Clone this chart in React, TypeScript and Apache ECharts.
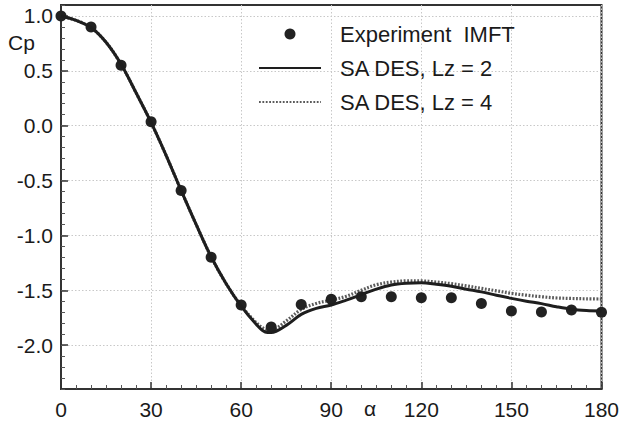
import React, { useEffect, useRef } from "react";
import * as echarts from "echarts";

const expAlpha = [0, 10, 20, 30, 40, 50, 60, 70, 80, 90, 100, 110, 120, 130, 140, 150, 160, 170, 180];
const expCp = [1.0, 0.9, 0.55, 0.035, -0.59, -1.2, -1.635, -1.835, -1.63, -1.583, -1.56, -1.559, -1.568, -1.568, -1.62, -1.69, -1.698, -1.68, -1.7];

const simAlpha = [0, 5, 10, 15, 20, 25, 30, 35, 40, 45, 50, 55, 60, 65, 68, 70, 75, 80, 85, 90, 95, 100, 105, 110, 115, 120, 125, 130, 135, 140, 145, 150, 155, 160, 165, 170, 175, 180];
const lz2Cp = [1.0, 0.96, 0.895, 0.76, 0.56, 0.3, 0.03, -0.27, -0.59, -0.9, -1.195, -1.44, -1.645, -1.81, -1.88, -1.885, -1.82, -1.72, -1.665, -1.635, -1.59, -1.54, -1.49, -1.452, -1.436, -1.432, -1.445, -1.463, -1.49, -1.515, -1.545, -1.574, -1.6, -1.622, -1.65, -1.673, -1.684, -1.688];
const lz4Cp = [1.0, 0.96, 0.895, 0.76, 0.56, 0.3, 0.03, -0.27, -0.59, -0.9, -1.195, -1.44, -1.64, -1.795, -1.855, -1.862, -1.78, -1.675, -1.62, -1.59, -1.555, -1.5, -1.45, -1.425, -1.415, -1.415, -1.425, -1.44, -1.46, -1.483, -1.505, -1.528, -1.545, -1.559, -1.57, -1.575, -1.578, -1.58];

const xTicks = [0, 30, 60, 90, 120, 150, 180];
const yTicks = [-2.0, -1.5, -1.0, -0.5, 0.0, 0.5, 1.0];

const seriesNames = ["Experiment  IMFT", "SA DES, Lz = 2", "SA DES, Lz = 4"];

const FONT = "Liberation Sans, Arial, Helvetica, sans-serif";

export default function App() {
  const ref = useRef<HTMLDivElement>(null);
  useEffect(() => {
    if (!ref.current) return;
    const chart = echarts.init(ref.current, null, { renderer: "svg" });
    const zip = (xs: number[], ys: number[]) => xs.map((x, i) => [x, ys[i]]);
    const option: any = {
      animation: false,
      backgroundColor: "#ffffff",
      grid: {
        left: 61,
        right: 20,
        top: 5,
        bottom: 35,
        show: true,
        borderColor: "#333",
        borderWidth: 2,
        backgroundColor: "transparent",
      },
      legend: {
        orient: "vertical",
        left: 253,
        top: 18,
        itemWidth: 62,
        itemHeight: 11,
        itemGap: 12,
        textStyle: { fontSize: 22, fontFamily: FONT, color: "#1a1a1a", padding: [0, 0, 0, 14], lineHeight: 22 },
        data: [
          { name: seriesNames[0], icon: "circle" },
          { name: seriesNames[1], itemStyle: { opacity: 0 } },
          { name: seriesNames[2], itemStyle: { opacity: 0 } },
        ],
      },
      xAxis: [
        {
          type: "value",
          min: 0,
          max: 180,
          interval: 30,
          axisLine: { show: true, onZero: false, lineStyle: { color: "#333", width: 2 } },
          axisTick: { show: true, inside: true, length: 7, lineStyle: { color: "#333", width: 1.5 } },
          minorTick: { show: true, splitNumber: 6, length: 4, lineStyle: { color: "#555", width: 1 } },
          axisLabel: {
            fontSize: 21,
            fontFamily: FONT,
            color: "#1a1a1a",
            margin: 10,
            customValues: xTicks,
          },
          splitLine: { show: true, lineStyle: { color: "#c8c8c8", type: [1.5, 2], width: 1 } },
        },
      ],
      yAxis: [
        {
          type: "value",
          min: -2.4,
          max: 1.1,
          axisLine: { show: true, onZero: false, lineStyle: { color: "#333", width: 2 } },
          axisTick: { show: true, inside: true, length: 7, customValues: yTicks, lineStyle: { color: "#333", width: 1.5 } },
          axisLabel: {
            fontSize: 21,
            fontFamily: FONT,
            color: "#1a1a1a",
            margin: 8,
            customValues: yTicks,
            formatter: (v: number) => v.toFixed(1),
          },
          splitLine: { show: true, lineStyle: { color: "#c8c8c8", type: [1.5, 2], width: 1 } },
        },
        {
          type: "value",
          min: -2.4,
          max: 1.1,
          interval: 0.1,
          position: "left",
          axisLine: { show: false, onZero: false },
          axisTick: { show: true, inside: true, length: 4, lineStyle: { color: "#555", width: 1 } },
          axisLabel: { show: false },
          splitLine: { show: false },
        },
      ],
      graphic: [
        {
          type: "text",
          left: 8,
          top: 32,
          style: { text: "Cp", fontSize: 21, fontFamily: FONT, fill: "#1a1a1a" },
        },
        {
          type: "text",
          left: 364,
          top: 398,
          style: { text: "α", fontSize: 21, fontFamily: FONT, fill: "#1a1a1a" },
        },
      ],
      series: [
        {
          name: seriesNames[0],
          type: "scatter",
          symbol: "circle",
          symbolSize: 11,
          itemStyle: { color: "#222", opacity: 1 },
          data: zip(expAlpha, expCp),
          z: 3,
        },
        {
          name: seriesNames[1],
          type: "line",
          smooth: 0.35,
          symbol: "none",
          lineStyle: { color: "#1e1e1e", width: 3 },
          itemStyle: { color: "#1e1e1e" },
          data: zip(simAlpha, lz2Cp),
          z: 4,
        },
        {
          name: seriesNames[2],
          type: "line",
          smooth: 0.35,
          symbol: "none",
          lineStyle: { color: "#5a5a5a", width: 3.2, type: [1.8, 1.6] },
          itemStyle: { color: "#5a5a5a" },
          data: zip(simAlpha, lz4Cp),
          z: 2,
        },
      ],
    };
    chart.setOption(option);
    return () => chart.dispose();
  }, []);
  return (
    <div
      ref={ref}
      style={{ position: "absolute", left: 0, top: 0, width: 622, height: 424 }}
    />
  );
}
